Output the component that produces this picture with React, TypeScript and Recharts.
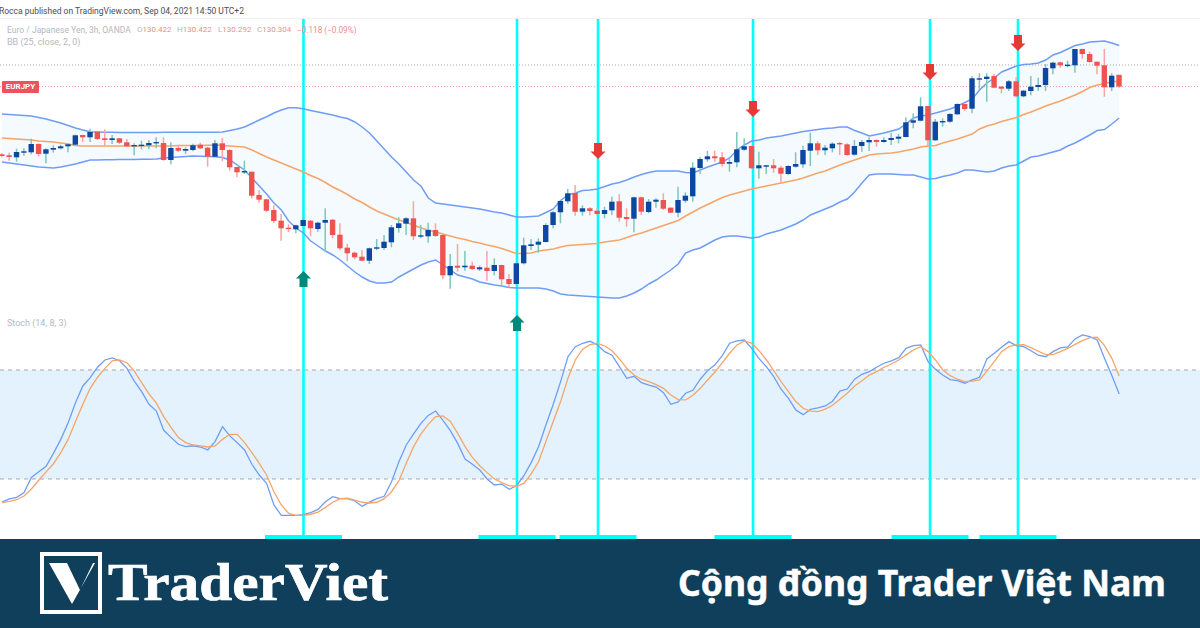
import React from "react";
import { ComposedChart, XAxis, YAxis, Area, Line, Bar, ReferenceLine, ReferenceArea, ReferenceDot } from "recharts";

const opens = [129.627,129.617,129.597,129.643,129.647,129.73,129.633,129.673,129.687,129.707,129.723,129.82,129.797,129.853,129.787,129.77,129.787,129.747,129.71,129.713,129.717,129.74,129.74,129.57,129.69,129.663,129.67,129.723,129.693,129.603,129.737,129.67,129.5,129.45,129.453,129.22,129.177,129.07,128.963,128.893,128.877,128.91,128.963,128.88,128.943,128.973,128.823,128.693,128.643,128.603,128.563,128.683,128.69,128.747,128.89,128.933,128.987,128.807,128.807,128.87,128.82,128.417,128.513,128.497,128.513,128.477,128.493,128.46,128.52,128.38,128.33,128.537,128.71,128.723,128.75,128.92,129.047,129.157,129.24,129.053,129.087,129.063,129.03,129.067,129.157,129.0,128.983,129.197,129.05,129.153,129.17,129.093,129.043,129.163,129.207,129.49,129.577,129.607,129.597,129.533,129.547,129.673,129.71,129.487,129.51,129.517,129.493,129.43,129.503,129.527,129.663,129.737,129.667,129.687,129.74,129.727,129.623,129.71,129.747,129.77,129.75,129.77,129.783,129.8,129.943,129.963,130.11,129.767,129.95,129.953,130.027,130.13,130.083,130.377,130.38,130.41,130.303,130.283,130.357,130.207,130.26,130.3,130.32,130.487,130.547,130.517,130.517,130.68,130.63,130.553,130.517,130.297,130.422];
const closes = [129.61,129.6,129.65,129.657,129.73,129.63,129.677,129.69,129.707,129.727,129.817,129.797,129.85,129.78,129.77,129.787,129.743,129.707,129.72,129.723,129.74,129.75,129.57,129.69,129.663,129.68,129.717,129.687,129.603,129.737,129.67,129.497,129.447,129.46,129.213,129.173,129.063,128.96,128.887,128.887,128.917,128.97,128.887,128.943,128.97,128.82,128.687,128.637,128.597,128.563,128.687,128.697,128.753,128.897,128.937,128.987,128.807,128.817,128.87,128.81,128.417,128.51,128.493,128.513,128.48,128.497,128.46,128.52,128.377,128.33,128.537,128.717,128.727,128.753,128.92,129.047,129.16,129.237,129.053,129.087,129.06,129.03,129.07,129.153,128.993,128.98,129.197,129.053,129.153,129.173,129.083,129.043,129.17,129.213,129.493,129.58,129.607,129.587,129.53,129.55,129.677,129.707,129.487,129.517,129.517,129.487,129.433,129.51,129.53,129.67,129.737,129.667,129.693,129.733,129.727,129.62,129.71,129.75,129.77,129.75,129.77,129.79,129.803,129.947,129.967,130.107,129.767,129.953,129.96,130.03,130.13,130.08,130.387,130.387,130.403,130.293,130.283,130.357,130.207,130.263,130.303,130.32,130.49,130.543,130.517,130.523,130.68,130.63,130.55,130.513,130.297,130.413,130.304];
const highs = [129.637,129.643,129.683,129.687,129.783,129.737,129.687,129.717,129.723,129.737,129.823,129.823,129.883,129.863,129.877,129.82,129.787,129.78,129.737,129.763,129.77,129.797,129.797,129.747,129.717,129.697,129.733,129.743,129.703,129.77,129.79,129.677,129.503,129.563,129.453,129.27,129.183,129.117,129.03,128.927,128.923,129.003,128.97,128.953,129.087,128.98,128.937,128.73,128.653,128.67,128.693,128.78,128.82,128.92,128.997,128.997,129.157,128.92,128.943,128.937,128.827,128.63,128.73,128.66,128.553,128.513,128.66,128.587,128.523,128.43,128.543,128.793,128.78,128.787,128.937,129.06,129.163,129.28,129.32,129.117,129.097,129.087,129.103,129.203,129.227,129.087,129.203,129.203,129.18,129.187,129.237,129.097,129.303,129.247,129.547,129.603,129.66,129.663,129.65,129.577,129.85,129.787,129.71,129.653,129.52,129.58,129.513,129.517,129.647,129.713,129.843,129.757,129.72,129.747,129.75,129.737,129.77,129.77,129.797,129.777,129.797,129.843,129.83,129.997,130.037,130.197,130.11,129.98,129.987,130.037,130.137,130.137,130.41,130.437,130.437,130.43,130.31,130.37,130.397,130.27,130.41,130.393,130.53,130.553,130.553,130.563,130.68,130.683,130.653,130.553,130.68,130.437,130.422];
const lows = [129.597,129.563,129.553,129.613,129.627,129.603,129.537,129.643,129.677,129.647,129.717,129.75,129.75,129.77,129.71,129.73,129.73,129.7,129.617,129.677,129.677,129.687,129.563,129.527,129.65,129.63,129.657,129.68,129.503,129.597,129.557,129.463,129.397,129.43,129.187,129.143,129.05,128.937,128.763,128.85,128.837,128.903,128.81,128.853,128.653,128.787,128.67,128.56,128.577,128.557,128.53,128.67,128.67,128.697,128.843,128.82,128.77,128.787,128.743,128.803,128.377,128.283,128.453,128.463,128.47,128.46,128.363,128.417,128.32,128.297,128.323,128.527,128.67,128.643,128.747,128.887,128.937,129.133,129.013,129.013,129.017,129.017,128.987,129.02,128.953,128.903,128.847,129.02,129.037,129.093,129.07,129.04,128.997,129.143,129.153,129.43,129.553,129.553,129.503,129.453,129.497,129.663,129.483,129.383,129.43,129.443,129.33,129.42,129.493,129.493,129.51,129.62,129.62,129.647,129.62,129.613,129.613,129.653,129.66,129.703,129.743,129.72,129.737,129.797,129.887,129.957,129.703,129.763,129.903,129.943,130.023,130.063,130.037,130.27,130.153,130.287,130.237,130.26,130.197,130.197,130.217,130.263,130.26,130.427,130.493,130.497,130.443,130.583,130.543,130.427,130.203,130.26,130.292];
const bbUpper = [130.03,130.025,130.02,130.015,130.01,129.995,129.98,129.96,129.94,129.915,129.89,129.87,129.853,129.85,129.847,129.847,129.845,129.845,129.845,129.845,129.845,129.845,129.847,129.847,129.847,129.847,129.847,129.847,129.847,129.847,129.85,129.865,129.88,129.9,129.935,129.97,130.003,130.04,130.07,130.093,130.092,130.083,130.065,130.05,130.035,130.02,130.0,129.985,129.95,129.9,129.84,129.76,129.68,129.6,129.53,129.45,129.37,129.31,129.19,129.14,129.13,129.12,129.11,129.1,129.09,129.08,129.065,129.05,129.04,129.02,129.0,129.0,129.005,129.01,129.045,129.08,129.165,129.22,129.24,129.265,129.27,129.28,129.305,129.33,129.345,129.37,129.4,129.425,129.445,129.46,129.46,129.46,129.46,129.445,129.44,129.47,129.5,129.525,129.55,129.59,129.67,129.72,129.76,129.77,129.79,129.8,129.81,129.825,129.84,129.855,129.865,129.875,129.885,129.89,129.9,129.9,129.865,129.84,129.81,129.825,129.84,129.86,129.88,129.93,129.99,130.01,130.02,130.04,130.06,130.08,130.11,130.145,130.18,130.27,130.34,130.39,130.45,130.48,130.51,130.525,130.53,130.54,130.57,130.62,130.645,130.68,130.715,130.73,130.75,130.755,130.76,130.74,130.715];
const bbBasis = [129.79,129.785,129.78,129.775,129.77,129.76,129.755,129.75,129.74,129.73,129.715,129.71,129.71,129.71,129.71,129.71,129.71,129.71,129.71,129.71,129.71,129.71,129.71,129.71,129.715,129.715,129.715,129.715,129.717,129.72,129.715,129.71,129.705,129.7,129.67,129.635,129.6,129.57,129.54,129.51,129.48,129.45,129.415,129.385,129.345,129.3,129.265,129.225,129.18,129.145,129.1,129.06,129.03,129.0,128.97,128.945,128.92,128.89,128.87,128.85,128.83,128.81,128.79,128.775,128.755,128.74,128.72,128.705,128.685,128.66,128.635,128.635,128.64,128.66,128.67,128.68,128.7,128.715,128.72,128.725,128.73,128.735,128.75,128.76,128.77,128.795,128.82,128.84,128.865,128.89,128.915,128.94,128.965,129.01,129.05,129.09,129.125,129.16,129.195,129.22,129.24,129.26,129.28,129.295,129.31,129.325,129.34,129.355,129.37,129.39,129.415,129.44,129.46,129.49,129.52,129.545,129.57,129.595,129.62,129.63,129.635,129.64,129.65,129.665,129.68,129.7,129.71,129.715,129.74,129.76,129.78,129.805,129.83,129.88,129.91,129.93,129.955,129.975,129.995,130.025,130.05,130.08,130.11,130.135,130.16,130.19,130.22,130.255,130.295,130.32,130.335,130.35,130.36];
const bbLower = [129.55,129.54,129.53,129.52,129.51,129.5,129.495,129.49,129.5,129.515,129.53,129.55,129.57,129.57,129.572,129.573,129.574,129.575,129.576,129.577,129.578,129.58,129.59,129.595,129.6,129.605,129.61,129.608,129.605,129.602,129.595,129.57,129.52,129.47,129.39,129.31,129.23,129.14,129.07,128.96,128.89,128.84,128.76,128.71,128.66,128.62,128.57,128.51,128.45,128.4,128.36,128.34,128.34,128.35,128.4,128.44,128.48,128.52,128.55,128.57,128.52,128.47,128.42,128.4,128.38,128.35,128.335,128.32,128.31,128.295,128.29,128.29,128.29,128.29,128.28,128.26,128.23,128.22,128.215,128.21,128.205,128.2,128.195,128.19,128.19,128.21,128.24,128.28,128.33,128.37,128.42,128.47,128.53,128.64,128.67,128.69,128.73,128.77,128.8,128.81,128.81,128.8,128.79,128.8,128.83,128.85,128.87,128.9,128.93,128.97,129.02,129.05,129.08,129.11,129.15,129.18,129.25,129.34,129.42,129.43,129.43,129.43,129.425,129.42,129.42,129.4,129.38,129.385,129.405,129.42,129.44,129.47,129.47,129.46,129.45,129.46,129.49,129.51,129.52,129.56,129.6,129.61,129.63,129.65,129.67,129.71,129.74,129.78,129.82,129.865,129.875,129.93,129.99];
const stochK = [7.3,9.0,9.9,12.5,20.9,24.0,27.0,34.1,41.8,51.0,62.0,71.2,75.8,81.5,85.5,86.6,85.1,80.9,73.9,68.1,61.1,57.4,46.8,42.9,39.1,37.8,38.3,37.6,36.0,40.7,48.8,43.7,40.0,36.0,28.1,22.2,17.6,5.7,0,0,0,0.4,1.5,3.3,7.5,10.3,9.2,9.2,7.9,5.0,7.3,9.2,10.5,18.5,29.5,38.7,44.8,50.6,55.0,57.4,52.3,46.6,39.6,31.0,28.1,25.0,20.0,16.7,17.2,14.3,16.3,21.8,29.0,37.8,49.7,61.1,73.6,87.3,92.8,94.7,95.8,93.8,90.1,88.1,81.8,75.4,76.5,73.0,71.6,70.6,67.5,61.1,62.4,67.2,68.8,74.9,79.6,82.8,87.9,94.7,96.0,96.5,91.9,86.2,81.8,76.3,69.4,64.4,58.0,55.4,58.3,59.1,60.2,62.8,68.4,69.5,74.9,77.6,79.1,81.5,83.7,85.0,86.8,91.9,93.4,93.8,84.6,80.4,77.2,74.7,74.1,72.7,74.5,76.0,86.1,89.2,92.5,95.6,93.4,92.8,90.6,88.1,87.3,90.1,92.1,92.7,97.1,99.3,98.3,96.5,86.4,76.9,66.8];
const stochD = [7.0,7.7,8.6,10.6,14.5,19.3,23.9,28.4,34.5,41.8,51.6,61.1,69.9,76.0,80.9,85.0,85.5,84.0,79.4,73.0,66.8,61.7,54.3,48.4,42.8,40.0,38.7,38.2,37.6,38.2,41.8,44.6,44.6,40.0,34.5,28.6,22.2,13.0,5.7,1.1,0,0,0.6,1.8,4.4,7.2,9.2,9.4,8.4,7.2,6.8,7.2,9.2,13.0,19.1,28.6,37.8,44.8,50.1,54.3,54.7,51.7,45.1,37.8,31.9,27.3,23.5,20.0,18.0,16.3,16.0,17.6,22.8,29.5,40.6,51.6,62.6,75.4,85.5,91.4,93.9,94.7,93.2,90.6,86.1,80.9,77.2,74.9,73.6,71.9,69.9,66.2,63.7,63.5,66.1,69.9,74.5,78.9,84.0,89.2,93.8,96.0,94.7,90.6,85.5,79.6,73.6,68.1,62.6,58.9,57.4,57.1,58.5,60.6,63.9,67.2,71.2,74.1,77.2,79.1,81.5,83.3,85.5,88.3,91.0,92.8,90.1,85.5,80.0,76.9,74.9,73.6,73.9,74.5,79.4,84.6,90.1,92.8,93.8,93.9,92.3,90.3,88.4,88.4,90.1,91.9,94.1,96.1,97.8,98.0,93.4,86.4,76.7];

const signalBars = [41.02, 70.07, 81.09, 102.18, 126.26, 138.23];
const upArrows = [{ bar: 41.02, price: 128.38 }, { bar: 70.07, price: 127.94 }];
const downArrows = [{ bar: 81.09, price: 129.66 }, { bar: 102.18, price: 130.08 }, { bar: 126.26, price: 130.45 }, { bar: 138.23, price: 130.74 }];
const priceLines = { dotted: 130.52, last: 130.304 };
const stochLevels = { upper: 80, lower: 20 };
const publishedText = "Rocca published on TradingView.com, Sep 04, 2021 14:50 UTC+2";
const symbolText = "Euro / Japanese Yen, 3h, OANDA";
const ohlcLabels = ["O", "H", "L", "C"];
const ohlcValues = ["130.422", "130.422", "130.292", "130.304"];
const ohlcLefts = [137, 177, 218, 257];
const changeText = "\u22120.118 (\u22120.09%)";

const rows = opens.map((open, i) => ({
  bar: i, open, close: closes[i], high: highs[i], low: lows[i],
  range: [lows[i], highs[i]],
  band: [bbLower[i], bbUpper[i]],
  bbUpper: bbUpper[i], bbBasis: bbBasis[i], bbLower: bbLower[i],
  k: stochK[i], d: stochD[i],
}));

const RED = "#ef5350", BLUE = "#0d47a1", RED_WICK = "#f7a5a3", BLUE_WICK = "#80c5ba";
const CYAN = "#0ff";

function Candle(props: any) {
  const { x, y, width, height, payload } = props;
  if (!payload || height == null) return null;
  const up = payload.close >= payload.open;
  const k = height / Math.max(payload.high - payload.low, 1e-6);
  const top = y + (payload.high - Math.max(payload.open, payload.close)) * k;
  const bot = y + (payload.high - Math.min(payload.open, payload.close)) * k;
  const cx = x + width / 2;
  return (
    <g>
      <line x1={cx} x2={cx} y1={y} y2={y + height} stroke={up ? BLUE_WICK : RED_WICK} strokeWidth={1.5} />
      <rect x={cx - 2.7} width={5.4} y={top} height={Math.max(bot - top, 1.4)} fill={up ? BLUE : RED} />
    </g>
  );
}

function ArrowShape(props: any, dir: "up" | "down", color: string) {
  const { cx, cy } = props;
  const s = dir === "up" ? -1 : 1;
  const pts = [[-4, -8], [4, -8], [4, 0.5], [7.5, 0.5], [0, 8], [-7.5, 0.5], [-4, 0.5]]
    .map(([a, b]) => `${cx + a},${cy + s * b}`).join(" ");
  return <polygon points={pts} fill={color} />;
}

const uiFont = "Roboto, 'Open Sans', sans-serif";
const abs = (left: number, top: number): React.CSSProperties => ({ position: "absolute", left, top, whiteSpace: "nowrap", fontFamily: uiFont, lineHeight: "12px" });
const Z: any = { under: 50, bars: 450 };

export default function App() {
  return (
    <div style={{ position: "absolute", left: 0, top: 0, width: 1200, height: 628, overflow: "hidden", background: "#fff" }}>
      <ComposedChart width={1200} height={628} data={rows} margin={{ top: 0, right: 0, bottom: 0, left: 0 }}>
        <XAxis xAxisId={0} type="number" dataKey="bar" domain={[-0.272, 162.993]} hide allowDataOverflow />
        <YAxis yAxisId="price" domain={[124.89, 131.17]} hide allowDataOverflow />
        <YAxis yAxisId="stoch" domain={[-62, 283.6]} hide allowDataOverflow />

        <ReferenceArea yAxisId="stoch" y1={stochLevels.lower} y2={stochLevels.upper} fill="#e4f2fe" fillOpacity={1} stroke="none" zIndex={Z.under - 10} />
        <ReferenceLine yAxisId="stoch" y={stochLevels.upper} stroke="#a5a8b0" strokeWidth={1} strokeDasharray="4 4" zIndex={Z.under} />
        <ReferenceLine yAxisId="stoch" y={stochLevels.lower} stroke="#a5a8b0" strokeWidth={1} strokeDasharray="4 4" zIndex={Z.under} />
        <ReferenceLine yAxisId="price" y={priceLines.dotted} stroke="#a8a8a8" strokeWidth={1} strokeDasharray="1 2" zIndex={Z.under} />
        <ReferenceLine yAxisId="price" y={priceLines.last} stroke="#f79a9a" strokeWidth={1} strokeDasharray="1 2" zIndex={Z.under} />

        {signalBars.map((b) => (
          <ReferenceLine key={b} yAxisId="price" stroke={CYAN} strokeWidth={2.6} zIndex={Z.under}
            segment={[{ x: b, y: 130.99 }, { x: b, y: 125.78 }]} />
        ))}
        {signalBars.map((b) => (
          <ReferenceArea key={"t" + b} yAxisId="price" x1={b - 5.24} x2={b + 5.24} y1={125.78} y2={125.82} fill={CYAN} fillOpacity={1} stroke="none" zIndex={Z.under} />
        ))}

        <Area yAxisId="price" dataKey="band" stroke="none" fill="#2196f3" fillOpacity={0.05} isAnimationActive={false} dot={false} activeDot={false} />
        <Line yAxisId="price" dataKey="bbUpper" stroke="#6f9df5" strokeWidth={1.5} dot={false} activeDot={false} isAnimationActive={false} />
        <Line yAxisId="price" dataKey="bbLower" stroke="#6f9df5" strokeWidth={1.5} dot={false} activeDot={false} isAnimationActive={false} />
        <Line yAxisId="price" dataKey="bbBasis" stroke="#f5a569" strokeWidth={1.5} dot={false} activeDot={false} isAnimationActive={false} />
        <Bar yAxisId="price" dataKey="range" barSize={5} shape={Candle} isAnimationActive={false} zIndex={Z.bars} />
        <Line yAxisId="stoch" dataKey="k" stroke="#6f9df5" strokeWidth={1.3} dot={false} activeDot={false} isAnimationActive={false} />
        <Line yAxisId="stoch" dataKey="d" stroke="#f5a569" strokeWidth={1.3} dot={false} activeDot={false} isAnimationActive={false} />

        {upArrows.map((a) => (
          <ReferenceDot key={a.bar} yAxisId="price" x={a.bar} y={a.price} r={7} shape={(p: any) => ArrowShape(p, "up", "#00897b")} />
        ))}
        {downArrows.map((a) => (
          <ReferenceDot key={a.bar} yAxisId="price" x={a.bar} y={a.price} r={7} shape={(p: any) => ArrowShape(p, "down", "#e53935")} />
        ))}
      </ComposedChart>

      <div style={{ position: "absolute", left: 0, top: 18, width: 1200, height: 1, background: "#f0f1f3" }} />
      <div style={{ ...abs(-1, 5), fontSize: 8.5, color: "#4a4e58" }}>{publishedText}</div>
      <div style={{ ...abs(7, 24), fontSize: 8.55, color: "#b5b8c0" }}>{symbolText}</div>
      {ohlcLabels.map((l, i) => (
        <div key={l} style={{ ...abs(ohlcLefts[i], 24), fontSize: 8, color: "#b5b8c0" }}>{l}<span style={{ color: "#f08c8c" }}>{ohlcValues[i]}</span></div>
      ))}
      <div style={{ ...abs(297, 24), fontSize: 8.2, color: "#f08c8c" }}>{changeText}</div>
      <div style={{ ...abs(7, 36), fontSize: 9, color: "#b5b8c0" }}>BB (25, close, 2, 0)</div>
      <div style={{ ...abs(7, 317), fontSize: 9, color: "#b5b8c0" }}>Stoch (14, 8, 3)</div>
      <div style={{ ...abs(2, 81), width: 37, height: 12, background: "#f0525a", borderRadius: 1, color: "#fff", fontSize: 8, fontWeight: 700, textAlign: "center" }}>EURJPY</div>

      <div style={{ position: "absolute", left: 0, top: 539, width: 1200, height: 89, background: "#0f3f5a" }}>
        <svg width={1200} height={89} style={{ display: "block" }}>
          <rect x={42} y={15} width={58} height={58} fill="none" stroke="#fff" strokeWidth={4} />
          <polygon points="49,24 67,24 80,51 93,24 95,24 72,65" fill="#fff" />
          <text x={108} y={61} fontFamily="'Liberation Serif', serif" fontWeight={700} fontSize={53} fill="#fff" stroke="#fff" strokeWidth={0.7} textLength={280} lengthAdjust="spacingAndGlyphs">TraderViet</text>
          <text x={678} y={57} fontFamily="'Noto Sans', sans-serif" fontWeight={700} fontSize={36} fill="#fff" stroke="#fff" strokeWidth={0.5} textLength={488} lengthAdjust="spacingAndGlyphs">Cộng đồng Trader Việt Nam</text>
        </svg>
      </div>
    </div>
  );
}
